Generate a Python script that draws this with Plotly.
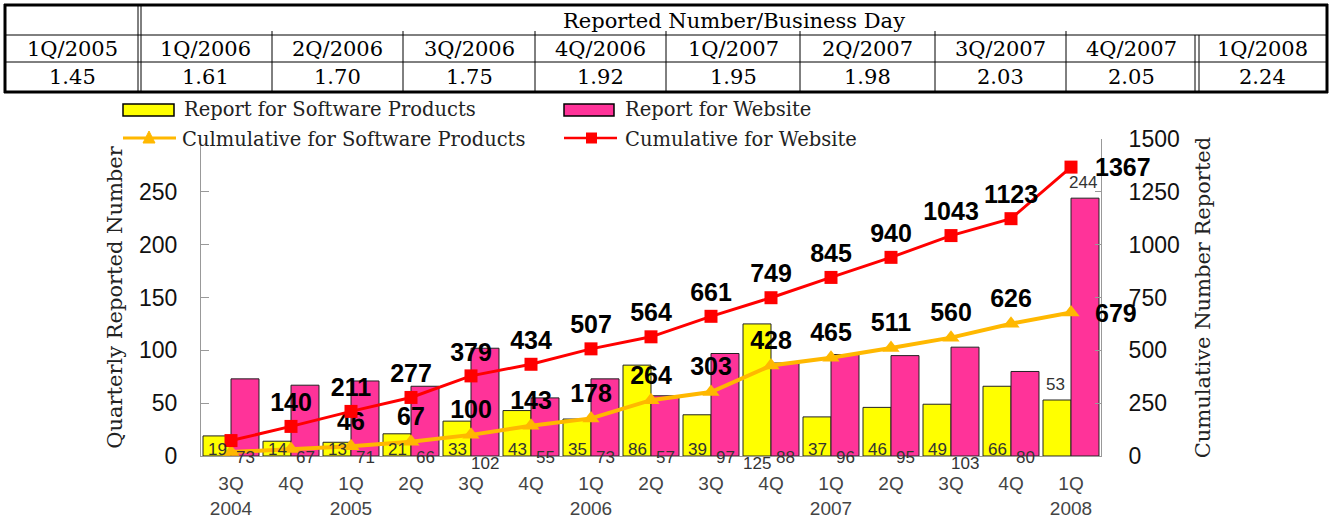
import plotly.graph_objects as go

# ---------------- data ----------------
quarters = ["3Q", "4Q", "1Q", "2Q", "3Q", "4Q", "1Q", "2Q", "3Q", "4Q", "1Q", "2Q", "3Q", "4Q", "1Q"]
years = ["2004", "2004", "2005", "2005", "2005", "2005", "2006", "2006", "2006", "2006",
         "2007", "2007", "2007", "2007", "2008"]
software_reports = [19, 14, 13, 21, 33, 43, 35, 86, 39, 125, 37, 46, 49, 66, 53]
website_reports = [73, 67, 71, 66, 102, 55, 73, 57, 97, 88, 96, 95, 103, 80, 244]
software_cumulative = [19, 33, 46, 67, 100, 143, 178, 264, 303, 428, 465, 511, 560, 626, 679]
website_cumulative = [73, 140, 211, 277, 379, 434, 507, 564, 661, 749, 845, 940, 1043, 1123, 1367]

series_names = ["Report for Software Products", "Report for Website",
                "Culmulative for Software Products", "Cumulative for Website"]

table_title = "Reported Number/Business Day"
table_quarters = ["1Q/2005", "1Q/2006", "2Q/2006", "3Q/2006", "4Q/2006",
                  "1Q/2007", "2Q/2007", "3Q/2007", "4Q/2007", "1Q/2008"]
table_values = ["1.45", "1.61", "1.70", "1.75", "1.92", "1.95", "1.98", "2.03", "2.05", "2.24"]

categories = [f"{q} {y}" for q, y in zip(quarters, years)]
ticktext = [q + "<br>" + y if (i == 0 or q == "1Q") else q
            for i, (q, y) in enumerate(zip(quarters, years))]

# ---------------- layout geometry (pixels) ----------------
W, H = 1331, 520
L, R, T, B = 201, 1101, 139, 456


def px(x):
    return (x - L) / (R - L)


def py(y):
    return (B - y) / (B - T)


SERIF = "DejaVu Serif"
SANS = "Arial, Liberation Sans, sans-serif"
YELLOW, PINK, ORANGE, RED = "#FFFF00", "#FF3399", "#FFB800", "#FF0000"

fig = go.Figure()

fig.add_trace(go.Bar(
    x=categories, y=software_reports, name=series_names[0],
    marker=dict(color=YELLOW, line=dict(color="#222222", width=1)), yaxis="y",
))
fig.add_trace(go.Bar(
    x=categories, y=website_reports, name=series_names[1],
    marker=dict(color=PINK, line=dict(color="#222222", width=1)), yaxis="y",
))

n = len(categories)
sw_text = [str(v) if 2 <= i < n - 1 else "" for i, v in enumerate(software_cumulative)]
web_text = [str(v) if 1 <= i < n - 1 else "" for i, v in enumerate(website_cumulative)]
LBL = dict(family=SANS, size=25, color="#000000", weight="bold")

fig.add_trace(go.Scatter(
    x=categories, y=software_cumulative, name=series_names[2],
    mode="lines+markers+text", text=sw_text, textposition="top center", textfont=LBL,
    line=dict(color=ORANGE, width=4),
    marker=dict(symbol="triangle-up", size=15, color=ORANGE), yaxis="y2",
))
fig.add_trace(go.Scatter(
    x=categories, y=website_cumulative, name=series_names[3],
    mode="lines+markers+text", text=web_text, textposition="top center", textfont=LBL,
    line=dict(color=RED, width=3),
    marker=dict(symbol="square", size=13, color=RED), yaxis="y2",
))

annotations = []
# last cumulative labels, to the right of the final point
for vals in (software_cumulative, website_cumulative):
    annotations.append(dict(x=categories[-1], y=vals[-1], xref="x", yref="y2",
                            xanchor="left", yanchor="middle", xshift=22, text=str(vals[-1]),
                            showarrow=False, font=LBL))

# bar value labels
for i, c in enumerate(categories):
    for vals, xs, base_shift in ((software_reports, -14, 7), (website_reports, 14, -1)):
        v = vals[i]
        if i == n - 1:
            annotations.append(dict(x=c, y=v, xref="x", yref="y", xshift=xs - 2, yshift=4,
                                    yanchor="bottom", text=str(v), showarrow=False,
                                    font=dict(family=SANS, size=17, color="#333333")))
        else:
            ys = base_shift if v < 100 else -7
            annotations.append(dict(x=c, y=0, xref="x", yref="y", xshift=xs, yshift=ys,
                                    yanchor="middle", text=str(v), showarrow=False,
                                    font=dict(family=SANS, size=17, color="#333333")))

shapes = []


def hline(y, x0, x1, w=1, color="black"):
    shapes.append(dict(type="line", xref="paper", yref="paper", x0=px(x0), x1=px(x1),
                       y0=py(y), y1=py(y), line=dict(color=color, width=w)))


def vline(x, y0, y1, w=1):
    shapes.append(dict(type="line", xref="paper", yref="paper", x0=px(x), x1=px(x),
                       y0=py(y0), y1=py(y1), line=dict(color="black", width=w)))


def rect(x0, y0, x1, y1, fill, lw=1.5):
    shapes.append(dict(type="rect", xref="paper", yref="paper", x0=px(x0), x1=px(x1),
                       y0=py(y0), y1=py(y1), fillcolor=fill, line=dict(color="black", width=lw)))


def text(x, y, s, size, family=SERIF, anchor="center", color="black"):
    annotations.append(dict(x=px(x), y=py(y), xref="paper", yref="paper", text=s,
                            xanchor=anchor, yanchor="middle", showarrow=False,
                            font=dict(family=family, size=size, color=color)))


# ---------------- table ----------------
col_edges = [5, 139.5, 272, 403, 535, 666, 800, 935, 1066, 1197, 1327]
hline(5, 4, 1328, 3)
hline(92, 4, 1328, 3)
hline(35, 5, 1327, 1)
hline(62, 5, 1327, 1)
vline(5, 4, 93, 3)
vline(1327, 4, 93, 3)
vline(138, 5, 92)
vline(141, 5, 92)
vline(1195, 35, 92)
vline(1199, 35, 92)
for x in col_edges[2:-2]:
    vline(x, 31, 92)

text((141 + 1327) / 2, 21, table_title, 21)
for j, (q, v) in enumerate(zip(table_quarters, table_values)):
    cx = (col_edges[j] + col_edges[j + 1]) / 2
    text(cx, 49, q, 21)
    text(cx, 77, v, 21)

# ---------------- legend (drawn) ----------------
rect(123, 104, 174, 116, YELLOW)
rect(564, 104, 614, 116, PINK)
hline(138, 123, 176, 3, ORANGE)
shapes.append(dict(type="path", xref="paper", yref="paper",
                   path=f"M {px(143)},{py(143)} L {px(155)},{py(143)} L {px(149)},{py(131)} Z",
                   fillcolor=ORANGE, line=dict(color=ORANGE, width=1)))
hline(138, 564, 617, 2.5, RED)
shapes.append(dict(type="rect", xref="paper", yref="paper", x0=px(586), x1=px(597),
                   y0=py(143.5), y1=py(132.5), fillcolor=RED, line=dict(color=RED, width=0)))
text(182, 110, series_names[0], 19.5, anchor="left", color="#222222")
text(623, 110, series_names[1], 19.5, anchor="left", color="#222222")
text(180, 139, series_names[2], 19.5, anchor="left", color="#222222")
text(623, 139, series_names[3], 19.5, anchor="left", color="#222222")

fig.update_layout(
    width=W, height=H,
    margin=dict(l=L, r=W - R, t=T, b=H - B, autoexpand=False),
    paper_bgcolor="white", plot_bgcolor="white",
    barmode="group", bargap=0.067, bargroupgap=0,
    showlegend=False,
    xaxis=dict(type="category", tickvals=categories, ticktext=ticktext,
               range=[-0.5, n - 0.5],
               showline=True, linecolor="#999999", linewidth=1, ticks="",
               tickfont=dict(family=SANS, size=19, color="#444444"),
               ticklabelstandoff=10, showgrid=False, zeroline=False, automargin=False),
    yaxis=dict(range=[0, 300], tickvals=[0, 50, 100, 150, 200, 250],
               showline=True, linecolor="#999999", linewidth=1,
               ticks="inside", ticklen=8, tickcolor="#999999",
               tickfont=dict(family=SANS, size=23, color="#111111"),
               ticklabelstandoff=18, showgrid=False, zeroline=False, automargin=False,
               title=dict(text="Quarterly Reported Number", standoff=10,
                          font=dict(family=SERIF, size=21, color="#222222"))),
    yaxis2=dict(range=[0, 1500], tickvals=[0, 250, 500, 750, 1000, 1250, 1500],
                overlaying="y", side="right",
                showline=True, linecolor="#999999", linewidth=1,
                ticks="inside", ticklen=6, tickcolor="#999999",
                tickfont=dict(family=SANS, size=23, color="#111111"),
                ticklabelstandoff=22, showgrid=False, zeroline=False, automargin=False,
                title=dict(text="Cumulative Number Reported", standoff=16,
                           font=dict(family=SERIF, size=21, color="#222222"))),
    shapes=shapes,
    annotations=annotations,
)

fig.write_html("out.html", config={"displayModeBar": False},
               post_script="document.body.style.margin='0px';")
